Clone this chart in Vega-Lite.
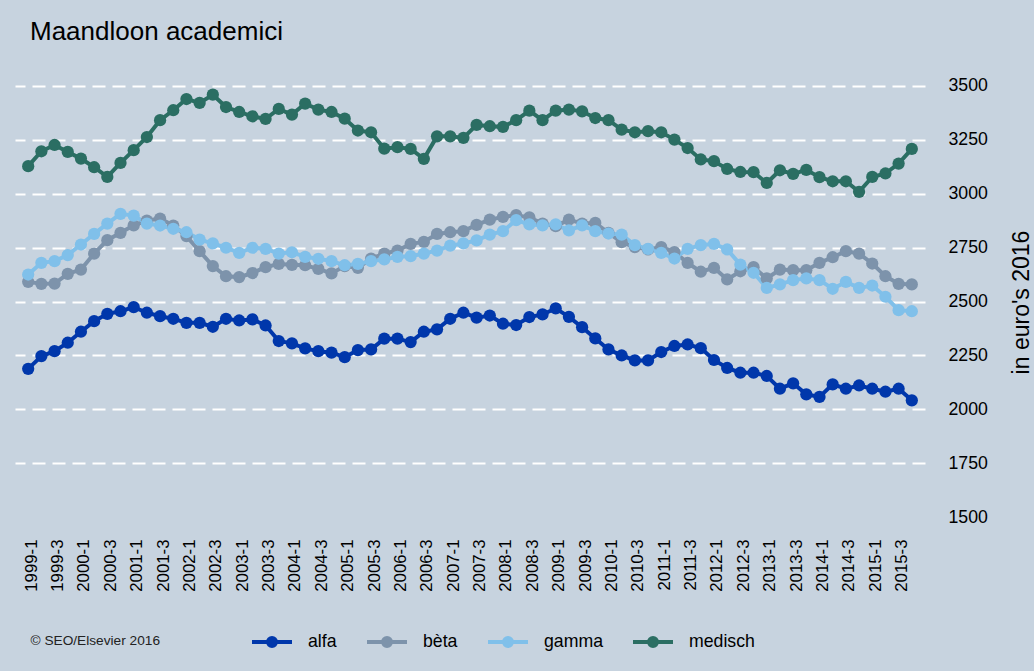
{
 "$schema": "https://vega.github.io/schema/vega-lite/v6.json",
 "autosize": {"type": "none"},
 "width": 910,
 "height": 449,
 "padding": {"left": 15, "top": 77, "right": 109, "bottom": 145},
 "background": "#c7d3df",
 "config": {"view": {"stroke": null, "fill": "#c7d3df"}, "font": "Liberation Sans"},
 "title": {"text": "Maandloon academici", "anchor": "start", "frame": "group", "fontSize": 26, "fontWeight": "normal", "color": "black", "dx": 15, "offset": 32, "font": "Liberation Sans"},
 "data": {"values": [
  {"kwartaal": "1999-1", "alfa": 2188, "bèta": 2591, "gamma": 2625, "medisch": 3127},
  {"kwartaal": "1999-2", "alfa": 2247, "bèta": 2582, "gamma": 2679, "medisch": 3196},
  {"kwartaal": "1999-3", "alfa": 2270, "bèta": 2583, "gamma": 2687, "medisch": 3225},
  {"kwartaal": "1999-4", "alfa": 2309, "bèta": 2628, "gamma": 2715, "medisch": 3193},
  {"kwartaal": "2000-1", "alfa": 2360, "bèta": 2648, "gamma": 2764, "medisch": 3162},
  {"kwartaal": "2000-2", "alfa": 2409, "bèta": 2722, "gamma": 2813, "medisch": 3122},
  {"kwartaal": "2000-3", "alfa": 2443, "bèta": 2784, "gamma": 2861, "medisch": 3077},
  {"kwartaal": "2000-4", "alfa": 2455, "bèta": 2818, "gamma": 2906, "medisch": 3142},
  {"kwartaal": "2001-1", "alfa": 2474, "bèta": 2853, "gamma": 2898, "medisch": 3201},
  {"kwartaal": "2001-2", "alfa": 2448, "bèta": 2875, "gamma": 2861, "medisch": 3262},
  {"kwartaal": "2001-3", "alfa": 2432, "bèta": 2884, "gamma": 2852, "medisch": 3340},
  {"kwartaal": "2001-4", "alfa": 2420, "bèta": 2852, "gamma": 2837, "medisch": 3386},
  {"kwartaal": "2002-1", "alfa": 2401, "bèta": 2803, "gamma": 2821, "medisch": 3438},
  {"kwartaal": "2002-2", "alfa": 2401, "bèta": 2733, "gamma": 2787, "medisch": 3420},
  {"kwartaal": "2002-3", "alfa": 2383, "bèta": 2664, "gamma": 2769, "medisch": 3458},
  {"kwartaal": "2002-4", "alfa": 2420, "bèta": 2617, "gamma": 2749, "medisch": 3401},
  {"kwartaal": "2003-1", "alfa": 2412, "bèta": 2613, "gamma": 2725, "medisch": 3378},
  {"kwartaal": "2003-2", "alfa": 2417, "bèta": 2632, "gamma": 2749, "medisch": 3358},
  {"kwartaal": "2003-3", "alfa": 2389, "bèta": 2659, "gamma": 2744, "medisch": 3346},
  {"kwartaal": "2003-4", "alfa": 2317, "bèta": 2674, "gamma": 2722, "medisch": 3392},
  {"kwartaal": "2004-1", "alfa": 2306, "bèta": 2670, "gamma": 2728, "medisch": 3366},
  {"kwartaal": "2004-2", "alfa": 2283, "bèta": 2668, "gamma": 2707, "medisch": 3417},
  {"kwartaal": "2004-3", "alfa": 2270, "bèta": 2651, "gamma": 2698, "medisch": 3389},
  {"kwartaal": "2004-4", "alfa": 2263, "bèta": 2630, "gamma": 2687, "medisch": 3378},
  {"kwartaal": "2005-1", "alfa": 2242, "bèta": 2664, "gamma": 2668, "medisch": 3347},
  {"kwartaal": "2005-2", "alfa": 2275, "bèta": 2656, "gamma": 2674, "medisch": 3292},
  {"kwartaal": "2005-3", "alfa": 2278, "bèta": 2699, "gamma": 2687, "medisch": 3284},
  {"kwartaal": "2005-4", "alfa": 2328, "bèta": 2722, "gamma": 2695, "medisch": 3208},
  {"kwartaal": "2006-1", "alfa": 2328, "bèta": 2736, "gamma": 2707, "medisch": 3215},
  {"kwartaal": "2006-2", "alfa": 2312, "bèta": 2767, "gamma": 2710, "medisch": 3207},
  {"kwartaal": "2006-3", "alfa": 2360, "bèta": 2776, "gamma": 2722, "medisch": 3161},
  {"kwartaal": "2006-4", "alfa": 2371, "bèta": 2813, "gamma": 2736, "medisch": 3265},
  {"kwartaal": "2007-1", "alfa": 2420, "bèta": 2821, "gamma": 2759, "medisch": 3265},
  {"kwartaal": "2007-2", "alfa": 2448, "bèta": 2826, "gamma": 2769, "medisch": 3258},
  {"kwartaal": "2007-3", "alfa": 2425, "bèta": 2855, "gamma": 2783, "medisch": 3318},
  {"kwartaal": "2007-4", "alfa": 2435, "bèta": 2879, "gamma": 2810, "medisch": 3312},
  {"kwartaal": "2008-1", "alfa": 2397, "bèta": 2892, "gamma": 2826, "medisch": 3309},
  {"kwartaal": "2008-2", "alfa": 2391, "bèta": 2900, "gamma": 2877, "medisch": 3340},
  {"kwartaal": "2008-3", "alfa": 2428, "bèta": 2890, "gamma": 2857, "medisch": 3384},
  {"kwartaal": "2008-4", "alfa": 2440, "bèta": 2861, "gamma": 2853, "medisch": 3340},
  {"kwartaal": "2009-1", "alfa": 2468, "bèta": 2849, "gamma": 2857, "medisch": 3384},
  {"kwartaal": "2009-2", "alfa": 2429, "bèta": 2879, "gamma": 2829, "medisch": 3389},
  {"kwartaal": "2009-3", "alfa": 2381, "bèta": 2861, "gamma": 2853, "medisch": 3381},
  {"kwartaal": "2009-4", "alfa": 2329, "bèta": 2864, "gamma": 2826, "medisch": 3350},
  {"kwartaal": "2010-1", "alfa": 2278, "bèta": 2818, "gamma": 2815, "medisch": 3340},
  {"kwartaal": "2010-2", "alfa": 2250, "bèta": 2775, "gamma": 2810, "medisch": 3296},
  {"kwartaal": "2010-3", "alfa": 2227, "bèta": 2752, "gamma": 2761, "medisch": 3284},
  {"kwartaal": "2010-4", "alfa": 2227, "bèta": 2741, "gamma": 2744, "medisch": 3289},
  {"kwartaal": "2011-1", "alfa": 2266, "bèta": 2752, "gamma": 2725, "medisch": 3284},
  {"kwartaal": "2011-2", "alfa": 2294, "bèta": 2729, "gamma": 2699, "medisch": 3250},
  {"kwartaal": "2011-3", "alfa": 2301, "bèta": 2679, "gamma": 2744, "medisch": 3211},
  {"kwartaal": "2011-4", "alfa": 2284, "bèta": 2638, "gamma": 2761, "medisch": 3158},
  {"kwartaal": "2012-1", "alfa": 2229, "bèta": 2656, "gamma": 2767, "medisch": 3150},
  {"kwartaal": "2012-2", "alfa": 2192, "bèta": 2602, "gamma": 2741, "medisch": 3114},
  {"kwartaal": "2012-3", "alfa": 2170, "bèta": 2640, "gamma": 2671, "medisch": 3100},
  {"kwartaal": "2012-4", "alfa": 2170, "bèta": 2659, "gamma": 2633, "medisch": 3099},
  {"kwartaal": "2013-1", "alfa": 2155, "bèta": 2607, "gamma": 2563, "medisch": 3049},
  {"kwartaal": "2013-2", "alfa": 2096, "bèta": 2648, "gamma": 2579, "medisch": 3108},
  {"kwartaal": "2013-3", "alfa": 2121, "bèta": 2645, "gamma": 2599, "medisch": 3091},
  {"kwartaal": "2013-4", "alfa": 2070, "bèta": 2645, "gamma": 2607, "medisch": 3110},
  {"kwartaal": "2014-1", "alfa": 2058, "bèta": 2679, "gamma": 2599, "medisch": 3076},
  {"kwartaal": "2014-2", "alfa": 2116, "bèta": 2705, "gamma": 2559, "medisch": 3057},
  {"kwartaal": "2014-3", "alfa": 2096, "bèta": 2733, "gamma": 2591, "medisch": 3057},
  {"kwartaal": "2014-4", "alfa": 2111, "bèta": 2722, "gamma": 2563, "medisch": 3008},
  {"kwartaal": "2015-1", "alfa": 2096, "bèta": 2676, "gamma": 2574, "medisch": 3077},
  {"kwartaal": "2015-2", "alfa": 2082, "bèta": 2617, "gamma": 2522, "medisch": 3093},
  {"kwartaal": "2015-3", "alfa": 2096, "bèta": 2582, "gamma": 2460, "medisch": 3139},
  {"kwartaal": "2015-4", "alfa": 2042, "bèta": 2579, "gamma": 2455, "medisch": 3207}
 ]},
 "transform": [{"fold": ["alfa", "bèta", "gamma", "medisch"], "as": ["serie", "waarde"]}],
 "encoding": {
  "x": {"field": "kwartaal", "type": "ordinal", "sort": null,
   "scale": {"type": "point", "padding": 1.1},
   "axis": {"values": ["1999-1","1999-3","2000-1","2000-3","2001-1","2001-3","2002-1","2002-3","2003-1","2003-3","2004-1","2004-3","2005-1","2005-3","2006-1","2006-3","2007-1","2007-3","2008-1","2008-3","2009-1","2009-3","2010-1","2010-3","2011-1","2011-3","2012-1","2012-3","2013-1","2013-3","2014-1","2014-3","2015-1","2015-3"],
    "labelAngle": -90, "labelFontSize": 16.8, "labelColor": "black", "labelFont": "Liberation Sans",
    "ticks": false, "tickSize": 0, "domain": false, "grid": false, "labelPadding": 13, "labelOffset": 3,
    "labelOverlap": false, "labelBound": false,
    "title": "© SEO/Elsevier 2016", "titleFontSize": 13.7, "titleFontWeight": "normal", "titleFont": "Liberation Sans",
    "titleAnchor": "start", "titleAlign": "left", "titleX": 15, "titleY": 114, "titleBaseline": "middle", "titleColor": "#222222"}},
  "y": {"field": "waarde", "type": "quantitative",
   "scale": {"domain": [1460, 3540], "nice": false, "zero": false},
   "axis": {"orient": "right", "values": [1500, 1750, 2000, 2250, 2500, 2750, 3000, 3250, 3500], "format": "d",
    "grid": true, "gridColor": "white", "gridDash": [13, 7], "gridWidth": 2,
    "gridOpacity": {"condition": {"test": "datum.value === 1500", "value": 0}, "value": 1},
    "ticks": false, "tickSize": 0, "domain": false, "labelPadding": 23, "labelFontSize": 17.7, "labelColor": "black",
    "labelAlign": "left", "labelFont": "Liberation Sans",
    "title": "in euro's 2016", "titleFontSize": 23, "titleFontWeight": "normal", "titleFont": "Liberation Sans",
    "titleAngle": 270, "titleX": 103, "titleY": 225, "titleAlign": "center", "titleBaseline": "alphabetic", "titleColor": "black"}},
  "color": {"field": "serie", "type": "nominal",
   "scale": {"domain": ["alfa", "bèta", "gamma", "medisch"], "range": ["#0037ab", "#7d93ab", "#80c0ea", "#2b6e63"]},
   "legend": {"orient": "none", "legendX": 235, "legendY": 543, "direction": "horizontal", "title": null,
    "labelFontSize": 17.7, "labelColor": "black", "labelFont": "Liberation Sans", "labelOffset": 14, "columnPadding": 22,
    "symbolType": "M-1,0L1,0M-0.2,0A0.2,0.2,0,1,0,0.2,0A0.2,0.2,0,1,0,-0.2,0Z", "symbolSize": 1600, "symbolStrokeWidth": 4,
    "encode": {"symbols": {"update": {"fill": {"scale": "color", "field": "value"}, "stroke": {"scale": "color", "field": "value"}, "opacity": {"value": 1}, "shape": {"value": "M-1,0L1,0M-0.2,0A0.2,0.2,0,1,0,0.2,0A0.2,0.2,0,1,0,-0.2,0Z"}, "size": {"value": 1600}, "strokeWidth": {"value": 4}}}}}}
 },
 "layer": [
  {"mark": {"type": "line", "strokeWidth": 4}},
  {"mark": {"type": "point", "filled": true, "size": 150, "opacity": 1, "strokeWidth": 0}}
 ]
}
